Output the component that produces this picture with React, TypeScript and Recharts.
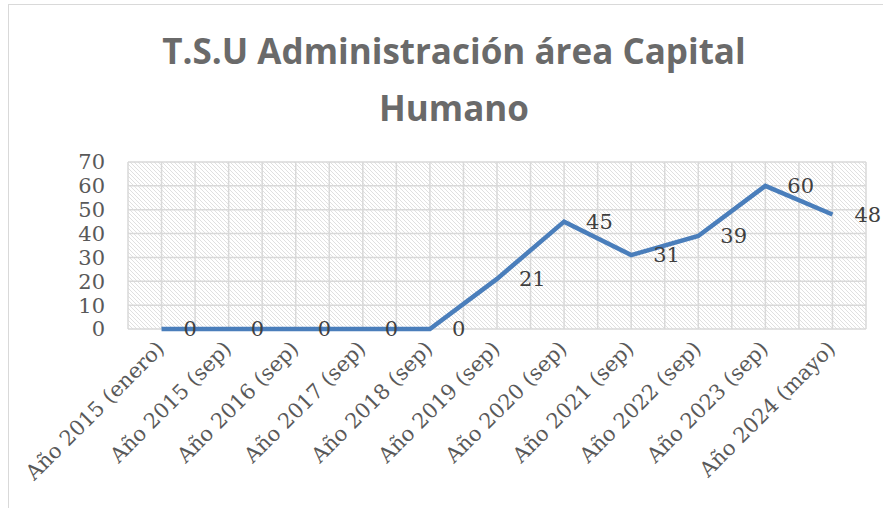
import React from 'react';
import { LineChart, Line, XAxis, YAxis, CartesianGrid, LabelList } from 'recharts';

const periods = [
  'Año 2015 (enero)',
  'Año 2015 (sep)',
  'Año 2016 (sep)',
  'Año 2017 (sep)',
  'Año 2018 (sep)',
  'Año 2019 (sep)',
  'Año 2020 (sep)',
  'Año 2021 (sep)',
  'Año 2022 (sep)',
  'Año 2023 (sep)',
  'Año 2024 (mayo)',
];
const students = [0, 0, 0, 0, 0, 21, 45, 31, 39, 60, 48];
const yTicks = [0, 10, 20, 30, 40, 50, 60, 70];
const titleLines = ['T.S.U Administración área Capital', 'Humano'];

const data = periods.map((p, i) => ({ period: p, value: students[i] }));

const SERIF = '"DejaVu Serif", "Liberation Serif", serif';
const AXIS_GREY = '#595959';

const XTick = ({ x, y, payload }: { x?: number; y?: number; payload?: { value: string } }) => {
  const tx = (x ?? 0) + 4;
  const ty = (y ?? 0) + 21;
  return (
    <text
      x={tx}
      y={ty}
      transform={`rotate(-45, ${tx}, ${ty})`}
      textAnchor="end"
      fill={AXIS_GREY}
      fontFamily={SERIF}
      fontSize={21}
    >
      {payload?.value}
    </text>
  );
};

export default function App() {
  return (
    <div style={{ position: 'absolute', left: 0, top: 0, width: 883, height: 508, background: '#fff', overflow: 'hidden' }}>
      {/* chart frame, only top/left edges fall inside the crop */}
      <div
        style={{
          position: 'absolute',
          left: 8,
          top: 4,
          width: 890,
          height: 520,
          borderLeft: '1.5px solid #d9d9d9',
          borderTop: '1.5px solid #d9d9d9',
        }}
      />
      <svg width={883} height={140} style={{ position: 'absolute', left: 0, top: 0 }}>
        {titleLines.map((t, i) => (
          <text
            key={t}
            x={454}
            y={64 + i * 57}
            textAnchor="middle"
            fill="#6a6a6a"
            fontWeight="bold"
            fontSize={35}
            fontFamily='"Open Sans", sans-serif'
          >
            {t}
          </text>
        ))}
      </svg>
      <div style={{ position: 'absolute', left: 0, top: 0 }}>
        <LineChart width={883} height={508} data={data} margin={{ top: 162, right: 17, left: 0, bottom: 0 }}>
          <defs>
            <pattern id="hatch" patternUnits="userSpaceOnUse" width={4} height={4}>
              <rect width={4} height={4} fill="#ffffff" />
              <path d="M-1,-1 L5,5 M-1,3 L1,5 M3,-1 L5,1" stroke="#dcdcdc" strokeWidth={0.9} />
            </pattern>
          </defs>
          <CartesianGrid
            stroke="#d9d9d9"
            strokeWidth={1.5}
            fill="url(#hatch)"
            fillOpacity={1}
            verticalCoordinatesGenerator={({ offset }: any) =>
              Array.from({ length: periods.length * 2 + 1 }, (_, i) => offset.left + (i * offset.width) / (periods.length * 2))
            }
          />
          <XAxis
            dataKey="period"
            scale="band"
            interval={0}
            height={179}
            tick={<XTick />}
            tickLine={false}
            tickSize={0}
            tickMargin={0}
            axisLine={false}
          />
          <YAxis
            domain={[0, 70]}
            ticks={yTicks}
            interval={0}
            width={128}
            tickLine={false}
            tickSize={0}
            tickMargin={23}
            axisLine={false}
            tick={{ fill: AXIS_GREY, fontFamily: SERIF, fontSize: 21 }}
          />
          <Line
            type="linear"
            dataKey="value"
            stroke="#4a7ebb"
            strokeWidth={4.5}
            dot={false}
            isAnimationActive={false}
          >
            <LabelList dataKey="value" position="right" offset={22} fill="#404040" fontFamily={SERIF} fontSize={21} />
          </Line>
        </LineChart>
      </div>
    </div>
  );
}
